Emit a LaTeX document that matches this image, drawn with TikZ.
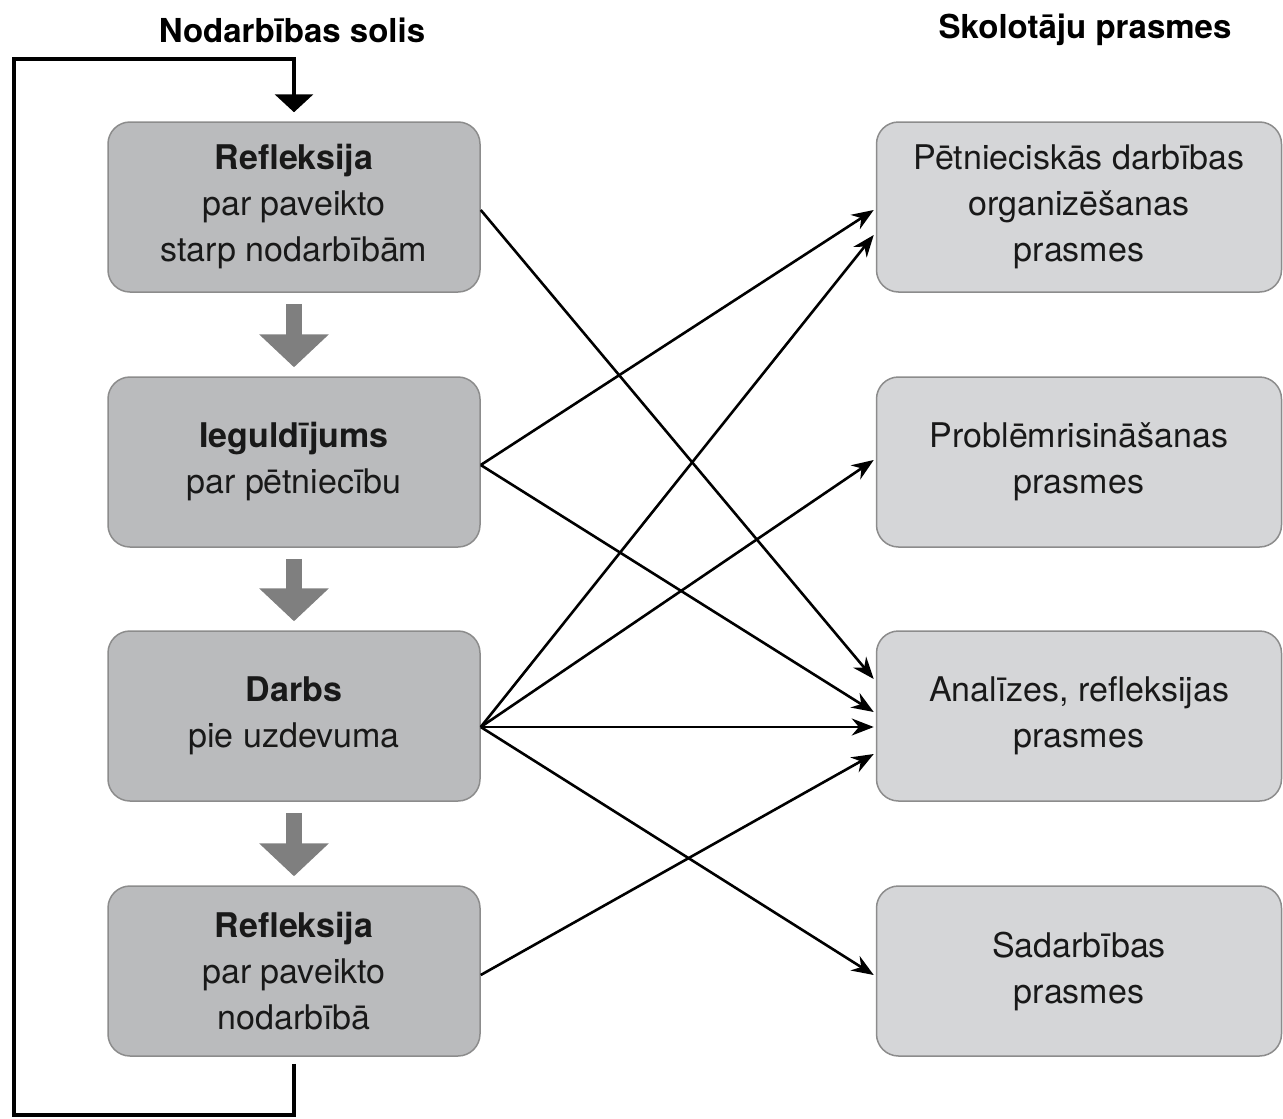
\documentclass[tikz,border=0pt]{standalone}
\usepackage{fontspec}
\setmainfont{TeX Gyre Heros}
\usepackage{tikz}
\usetikzlibrary{calc}
\usetikzlibrary{arrows.meta}
\definecolor{stepgray}{HTML}{BABBBD}
\definecolor{skillgray}{HTML}{D5D6D8}
\definecolor{edgegray}{HTML}{8C8C8C}
\definecolor{flowgray}{HTML}{7F7F7F}

\begin{document}
\begin{tikzpicture}[x=1pt,y=-1pt,
  stepbox/.style={draw=edgegray, line width=1.5pt, fill=stepgray, rounded corners=22pt, minimum width=372pt, minimum height=170pt, align=center, inner sep=0pt, text=black!90, font=\fontsize{34}{46}\selectfont},
  skillbox/.style={stepbox, fill=skillgray, minimum width=405pt},
  link/.style={line width=2.6pt, -{Stealth[length=22pt,width=17pt]}},
  flow/.style={flowgray, line width=16pt, -{Triangle[length=33pt,width=68pt]}},
  feedback/.style={line width=4pt, -{Triangle[length=18pt,width=38pt]}}]
\useasboundingbox (0,0) rectangle (1283,1119);

% titles
\node[font=\fontsize{33}{40}\selectfont\bfseries] (steptitle) at (292,30) {Nodarbības solis};
\node[font=\fontsize{33}{40}\selectfont\bfseries] (skilltitle) at (1085,30) {Skolotāju prasmes};

% LEFT COLUMN
\node[stepbox] (l1) at (294,207) {\textbf{Refleksija}\\par paveikto\\starp nodarbībām};
\node[stepbox] (l2) at (294,462) {\textbf{Ieguldījums}\\par pētniecību};
\node[stepbox] (l3) at (294,716) {\textbf{Darbs}\\pie uzdevuma};
\node[stepbox] (l4) at (294,971) {\textbf{Refleksija}\\par paveikto\\nodarbībā};

% RIGHT COLUMN
\node[skillbox] (r1) at (1079,207) {Pētnieciskās darbības\\organizēšanas\\prasmes};
\node[skillbox] (r2) at (1079,462) {Problēmrisināšanas\\prasmes};
\node[skillbox] (r3) at (1079,716) {Analīzes, refleksijas\\prasmes};
\node[skillbox] (r4) at (1079,971) {Sadarbības\\prasmes};

% step order
\draw[flow] ([yshift=-11pt]l1.south) -- ([yshift=9pt]l2.north);
\draw[flow] ([yshift=-11pt]l2.south) -- ([yshift=9pt]l3.north);
\draw[flow] ([yshift=-11pt]l3.south) -- ([yshift=9pt]l4.north);

% feedback loop
\coordinate (fbL) at (14,1115);
\coordinate (fbT) at (294,59);
\draw[feedback] ([yshift=-7pt]l4.south) |- (fbL) |- (fbT) -- ([yshift=9pt]l1.north);

% links to skills
\draw[link] ($(l1.east)+(0,3)$) -- ($(r3.west)+(-2,-37)$);
\draw[link] ($(l2.east)+(0,3)$) -- ($(r1.west)+(-2,3)$);
\draw[link] ($(l2.east)+(0,3)$) -- ($(r3.west)+(-2,-4)$);
\draw[link] ($(l3.east)+(0,11)$) -- ($(r1.west)+(-2,28)$);
\draw[link] ($(l3.east)+(0,11)$) -- ($(r2.west)+(-2,-2)$);
\draw[link] ($(l3.east)+(0,11)$) -- ($(r3.west)+(-2,11)$);
\draw[link] ($(l3.east)+(0,11)$) -- ($(r4.west)+(-2,4)$);
\draw[link] ($(l4.east)+(0,4)$) -- ($(r3.west)+(-2,38)$);

\end{tikzpicture}
\end{document}
